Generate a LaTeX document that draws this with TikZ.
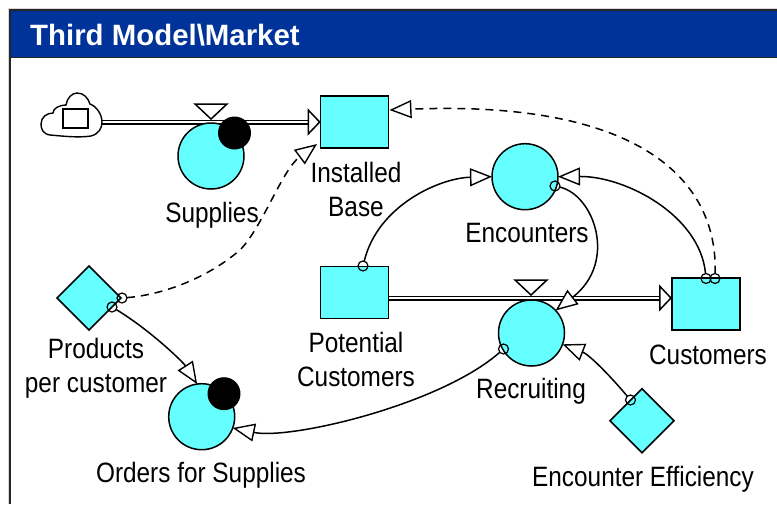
\documentclass[tikz,border=0pt]{standalone}
\usepackage{fontspec}
\setmainfont[FakeStretch=0.87]{Liberation Sans}
\newfontfamily\titlefam{Liberation Sans}
\usetikzlibrary{arrows.meta,shapes.geometric,backgrounds}
\definecolor{aqua}{HTML}{66FFFF}
\definecolor{barblue}{HTML}{003399}
\tikzset{
  ln/.style={line width=1.5pt,draw=black},
  aux/.style={ln,circle,fill=aqua,minimum size=66pt,inner sep=0pt,outer sep=0pt},
  ghostmark/.style={circle,fill=black,minimum size=33pt,inner sep=0pt,outer sep=0pt},
  stock/.style={ln,rectangle,fill=aqua,minimum width=68pt,minimum height=52pt,inner sep=0pt,outer sep=0pt},
  constant/.style={ln,diamond,aspect=1,fill=aqua,minimum width=64pt,minimum height=64pt,inner sep=0pt,outer sep=0pt},
  valve/.style={ln,isosceles triangle,shape border rotate=-90,isosceles triangle stretches,fill=white,minimum width=32pt,minimum height=15pt,inner sep=0pt,outer sep=0pt,anchor=apex},
  dot/.style={draw=black,line width=1.2pt,circle,minimum size=10pt,inner sep=0pt,outer sep=0pt},
  lab/.style={font=\fontsize{28}{34}\selectfont,inner sep=0pt,text=black},
  lab2/.style={lab,align=center},
  link/.style={ln,-{Triangle[length=22pt,width=18pt,fill=white,line width=1.4pt]}},
  dlink/.style={link,dash pattern=on 8pt off 6pt},
  flow/.style={line width=1.4pt,double=white,double distance=2.2pt,draw=black},
  flowhead/.style={ln,-{Triangle[length=13pt,width=27pt,fill=white,line width=1.5pt]}},
}
\begin{document}
\begin{tikzpicture}[x=1pt,y=-1pt]
\useasboundingbox (0,0) rectangle (777,504);
% nodes
\node[stock] (ib) at (354.7,122) {};
\node[stock] (pc) at (354.7,292.3) {};
\node[stock] (cu) at (706,304) {};
\node[aux] (sup) at (211,156) {};
\node[ghostmark] (supg) at (234.5,133) {};
\node[aux] (enc) at (525,176.7) {};
\node[aux] (rec) at (531.5,333) {};
\node[aux] (ord) at (201.7,416.7) {};
\node[ghostmark] (ordg) at (224,393.7) {};
\node[constant] (ppc) at (89,298) {};
\node[constant] (eff) at (642,420.7) {};
\node[valve] (v1) at (211,119) {};
\node[valve] (v2) at (531,295) {};
% origin marks
\node[dot] (o1) at (122,298) {};
\node[dot] (o2) at (112,307) {};
\node[dot] (o3) at (363,266) {};
\node[dot] (o4) at (555,186) {};
\node[dot] (o5) at (706,278.5) {};
\node[dot] (o6) at (715,278.5) {};
\node[dot] (o7) at (503.5,349) {};
\node[dot] (o8) at (630.5,400) {};
% free ends
\coordinate (t1) at (317,144);
\coordinate (t2) at (389.5,110);
\coordinate (d1) at (240,250);
\coordinate (fs) at (389,298);
\coordinate (fe) at (660,298);
\coordinate (fe1) at (672,298);
\coordinate (cl) at (102,122);
% frame and flows behind the nodes
\begin{pgfonlayer}{background}
  \draw[line width=1pt,draw=black!15] (8,504) -- (8,8.5) -- (777,8.5);
  \fill[barblue] (9.5,10) rectangle (777,57.5);
  \draw[line width=2pt,draw=black!85] (9.5,504) -- (9.5,10) -- (777,10);
  \draw[line width=1.6pt,draw=black!85] (9.5,57.5) -- (777,57.5);
  \draw[flow] (cl) -- (309,122);
  \draw[flow] (fs) -- (fe);
\end{pgfonlayer}
\draw[flowhead] (309,122) -- (ib.west);
\draw[flowhead] (fe) -- (fe1);
% title
\node[anchor=base west,inner sep=0pt,text=white,font=\titlefam\bfseries\fontsize{29.4}{34}\selectfont] (title) at (30,45) {Third Model\textbackslash Market};
% cloud
\draw[line width=1.4pt,fill=white] (50,135)
  .. controls (43,134) and (41,129) .. (41,124)
  .. controls (41,117) and (47,113) .. (53,113)
  .. controls (53,108) and (60,105) .. (66,105)
  .. controls (67,98) and (72,93) .. (77,93)
  .. controls (84,93) and (88,98) .. (90,104)
  .. controls (96,106) and (102,114) .. (102,122)
  .. controls (102,128) and (99,134) .. (91,136)
  .. controls (78,138) and (62,136) .. (50,135) -- cycle;
\draw[line width=1.4pt,fill=white] (63,109) rectangle (88,128);
% labels
\node[lab,anchor=base] (lsup) at (212,222.7) {Supplies};
\node[lab2] (lib) at (356,189.7) {Installed\\Base};
\node[lab,anchor=base] (lenc) at (527,242.7) {Encounters};
\node[lab2] (lpc) at (356,359.7) {Potential\\Customers};
\node[lab2] (lppc) at (96,368.3) {Products\\per customer};
\node[lab,anchor=base] (lord) at (201,482.7) {Orders for Supplies};
\node[lab,anchor=base] (lcu) at (708,364) {Customers};
\node[lab,anchor=base] (lrec) at (531,398) {Recruiting};
\node[lab,anchor=base] (leff) at (643,486.7) {Encounter Efficiency};
% links
\draw[link] (o3) .. controls (378,205) and (440,178) .. (enc.180);
\draw[link] (o5) .. controls (700,215) and (625,176) .. (enc.0);
\draw[link] (o4) .. controls (594,195) and (618,262) .. (rec.43);
\draw[link] (o2) .. controls (150,330) and (183,362) .. (ord.98);
\draw[link] (o7) .. controls (440,405) and (290,440) .. (ord.-20);
\draw[link] (o8) .. controls (612,378) and (590,355) .. (rec.-20);
\draw[dlink] (o1) .. controls (160,295) and (205,280) .. (d1) .. controls (262,228) and (282,170) .. (t1);
\draw[dlink] (o6) .. controls (718,180) and (640,100) .. (t2);
\end{tikzpicture}
\end{document}
